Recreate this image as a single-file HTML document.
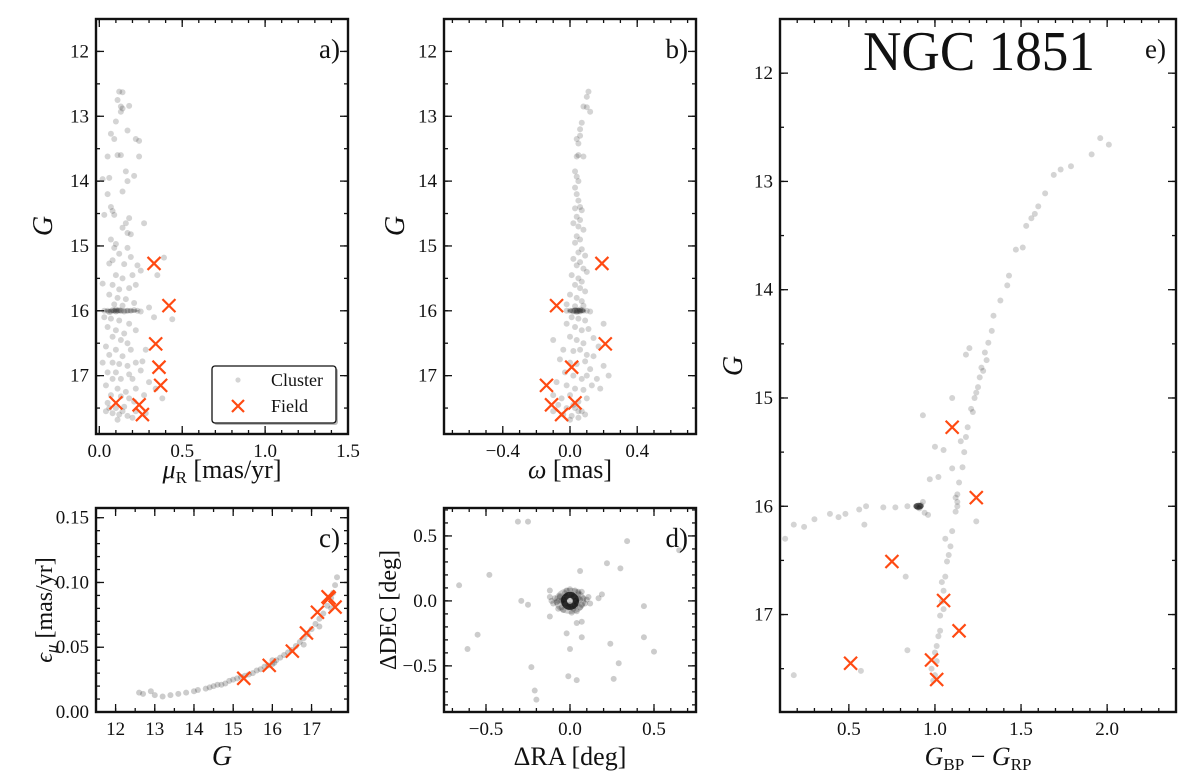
<!DOCTYPE html>
<html><head><meta charset="utf-8"><style>
html,body{margin:0;padding:0;background:#fff;}
svg{display:block;font-family:"Liberation Serif","DejaVu Serif",serif;}
</style></head><body>
<svg id="fig" width="1200" height="778" viewBox="0 0 1200 778" xmlns="http://www.w3.org/2000/svg"></svg>
<script>
// ---------- DATA ----------
const aMu = [0.12,0.14,0.11,0.13,0.18,0.14,0.13,0.10,0.07,0.09,0.17,0.22,0.24,0.24,0.05,0.11,0.13,0.06,0.16,0.21,0.17,0.02,0.14,0.05,0.07,0.08,0.03,0.09,0.18,0.16,0.27,0.14,0.17,0.19,0.07,0.10,0.09,0.17,0.12,0.08,0.19,0.39,0.06,0.15,0.23,0.35,0.02,0.10,0.14,0.20,0.25,0.08,0.12,0.18,0.22,0.06,0.11,0.16,0.09,0.14,0.21,0.30,0.03,0.05,0.07,0.08,0.09,0.10,0.11,0.12,0.13,0.15,0.17,0.19,0.21,0.23,0.25,0.06,0.10,0.03,0.07,0.12,0.18,0.33,0.44,0.05,0.10,0.15,0.22,0.08,0.13,0.17,0.04,0.10,0.19,0.28,0.06,0.14,0.02,0.08,0.12,0.17,0.22,0.26,0.05,0.10,0.18,0.25,0.08,0.13,0.20,0.30,0.34,0.04,0.11,0.16,0.22,0.07,0.13,0.18,0.05,0.10,0.15,0.21,0.27,0.38,0.04,0.08,0.12,0.17,0.22,0.28,0.11,0.20,0.14,0.06];
const aG  = [12.62,12.63,12.75,12.85,12.84,12.88,12.93,13.08,13.27,13.35,13.22,13.35,13.38,13.62,13.62,13.60,13.60,13.95,13.85,13.92,14.00,13.97,14.16,14.20,14.40,14.46,14.52,14.52,14.57,14.65,14.65,14.72,14.80,14.82,14.90,14.97,15.03,15.03,15.12,15.22,15.17,15.18,15.27,15.28,15.30,15.45,15.58,15.45,15.50,15.45,15.38,15.60,15.67,15.65,15.60,15.75,15.80,15.82,15.90,15.92,15.88,15.95,16.00,16.00,16.01,15.99,16.00,16.01,16.00,15.99,16.00,16.01,16.00,16.00,15.99,16.00,16.01,16.02,15.98,16.10,16.12,16.15,16.20,16.10,16.13,16.25,16.30,16.35,16.30,16.40,16.45,16.50,16.55,16.60,16.60,16.60,16.68,16.70,16.80,16.80,16.82,16.85,16.80,16.78,16.95,16.95,16.98,16.92,17.05,17.05,17.05,17.10,17.20,17.15,17.20,17.25,17.20,17.30,17.32,17.35,17.42,17.50,17.48,17.40,17.30,17.35,17.55,17.58,17.60,17.62,17.55,17.58,17.68,17.65,17.55,17.50];
const bW = [0.11,0.10,0.08,0.10,0.12,0.07,0.06,0.06,0.04,0.05,0.05,0.04,0.08,0.03,0.04,0.05,0.03,0.04,0.05,0.06,0.03,0.07,0.04,0.06,0.02,0.05,0.08,0.04,0.06,0.03,0.07,0.05,0.09,0.02,0.06,0.04,0.08,0.10,0.01,0.05,0.07,0.03,0.06,0.09,0.00,0.04,0.07,-0.02,0.03,0.08,-0.02,0.00,0.02,0.03,0.04,0.05,0.06,0.07,0.08,0.10,0.12,0.04,0.06,0.01,0.05,0.09,-0.02,0.03,0.07,0.11,0.20,-0.10,0.00,0.04,0.08,0.14,0.17,-0.04,0.02,0.06,0.10,0.14,-0.06,0.00,0.04,0.09,0.12,0.20,0.23,-0.03,0.02,0.07,0.10,0.16,-0.08,-0.02,0.03,0.08,0.13,0.18,-0.10,-0.05,0.00,0.05,0.10,-0.07,-0.02,0.03,0.07,-0.04,0.01,0.05,0.09,0.05,0.02,-0.10,0.00];
const bG = [12.62,12.70,12.85,12.86,12.93,13.10,13.20,13.30,13.35,13.42,13.60,13.62,13.62,13.85,13.93,14.00,14.10,14.20,14.30,14.40,14.42,14.45,14.55,14.60,14.65,14.70,14.75,14.85,14.90,14.95,15.05,15.10,15.15,15.20,15.25,15.30,15.35,15.40,15.45,15.50,15.55,15.60,15.65,15.70,15.75,15.80,15.85,15.90,15.93,15.92,16.00,16.00,16.01,15.99,16.00,16.00,16.01,15.99,16.00,16.00,16.01,16.02,15.98,16.10,16.12,16.15,16.20,16.25,16.30,16.28,16.20,16.45,16.40,16.45,16.50,16.42,16.55,16.60,16.62,16.60,16.68,16.70,16.75,16.80,16.82,16.78,16.90,16.85,17.00,16.95,17.00,17.05,17.00,17.05,17.10,17.15,17.20,17.22,17.15,17.20,17.30,17.35,17.30,17.40,17.35,17.45,17.50,17.50,17.55,17.60,17.62,17.65,17.60,17.55,17.45,17.55,17.68];
const cG = [12.6,12.7,12.9,13.0,13.2,13.4,13.6,13.8,14.0,14.1,14.3,14.4,14.5,14.6,14.7,14.8,14.9,15.0,15.1,15.2,15.3,15.4,15.5,15.6,15.7,15.8,15.9,16.0,16.0,16.05,16.1,16.2,16.3,16.4,16.5,16.6,16.7,16.8,16.9,17.0,17.1,17.2,17.3,17.4,17.5,17.55,17.6,17.65,17.5,17.2,16.8];
const cE = [0.015,0.014,0.016,0.013,0.012,0.013,0.014,0.015,0.016,0.017,0.018,0.019,0.020,0.021,0.021,0.022,0.024,0.025,0.026,0.027,0.028,0.029,0.030,0.032,0.033,0.035,0.036,0.037,0.040,0.038,0.040,0.042,0.044,0.046,0.048,0.051,0.054,0.057,0.060,0.064,0.068,0.072,0.076,0.082,0.088,0.092,0.098,0.104,0.080,0.066,0.052];
const dRA  = [-0.31,-0.25,0.34,0.65,-0.48,-0.66,0.22,0.30,0.06,-0.29,-0.25,-0.12,0.19,0.17,0.44,-0.12,0.04,0.07,-0.02,-0.55,0.07,0.44,-0.61,0.00,0.24,0.50,-0.23,0.29,-0.01,0.04,0.26,-0.21,-0.20,
  0.03,0.05,0.02,-0.02,-0.04,-0.03,0.00,0.04,-0.05,0.06,0.03,-0.06,0.07,-0.07,0.01,-0.01,0.08,-0.08,0.05,-0.05,0.09,-0.09,0.02,-0.03,0.06,-0.06,0.10,-0.10,0.03,-0.04,0.11,-0.11,0.00,0.04,-0.02,0.07,-0.07,0.12,-0.12,0.01,0.05];
const dDEC = [0.61,0.61,0.46,0.39,0.20,0.12,0.29,0.25,0.23,0.00,-0.03,0.08,0.05,0.02,-0.04,-0.12,-0.17,-0.16,-0.25,-0.26,-0.28,-0.28,-0.37,-0.37,-0.33,-0.39,-0.51,-0.48,-0.58,-0.61,-0.60,-0.69,-0.76,
  0.00,0.02,0.03,0.03,0.01,-0.02,-0.03,-0.02,0.00,0.01,-0.04,0.03,-0.03,0.00,0.05,-0.05,0.02,-0.01,0.05,-0.05,-0.02,0.02,-0.06,0.06,-0.05,0.04,0.01,-0.02,0.08,-0.07,0.03,0.00,0.09,-0.08,0.08,0.07,-0.06,-0.02,0.03,-0.09,0.07];
const eC = [2.01,1.96,1.91,1.79,1.73,1.69,1.64,1.60,1.58,1.56,1.53,1.51,1.47,1.43,1.42,1.38,1.34,1.33,1.31,1.29,1.27,1.26,1.24,1.22,1.19,1.18,1.17,1.16,1.14,1.13,1.13,1.12,1.10,1.09,1.07,1.06,1.05,1.04,1.03,1.03,1.01,1.01,1.00,0.99,1.18,1.20,1.23,
  0.91,0.90,0.92,0.89,0.91,0.84,0.77,0.70,0.60,0.56,0.48,0.44,0.39,0.30,0.24,0.18,0.13,0.59,0.96,0.94,0.97,1.02,0.93,1.00,1.05,0.93,1.10,0.83,0.84,0.57,0.18,1.24,1.12,1.13,1.08,1.05,1.02,1.00,0.98,1.04,1.06,1.10,1.15,1.21,1.25,1.28,1.30];
const eG = [12.66,12.60,12.75,12.86,12.89,12.94,13.11,13.23,13.30,13.34,13.41,13.61,13.63,13.87,13.96,14.10,14.24,14.38,14.49,14.58,14.72,14.81,14.95,15.13,15.27,15.36,15.50,15.64,15.78,15.89,15.96,16.05,16.23,16.37,16.51,16.65,16.78,16.88,17.01,17.15,17.29,17.43,17.56,17.61,14.60,14.54,15.00,
  16.00,16.01,15.99,16.00,16.02,16.00,16.01,16.01,16.00,16.03,16.07,16.10,16.07,16.12,16.19,16.17,16.30,16.17,16.08,16.06,15.75,15.73,15.96,15.45,15.48,15.16,15.00,16.65,17.33,17.52,17.56,16.14,15.92,16.00,16.45,16.95,17.20,17.35,17.50,16.70,16.30,15.65,15.40,15.10,14.90,14.75,14.65];
const fG   = [15.27,15.92,16.51,16.87,17.15,17.42,17.45,17.60];
const fMu  = [0.33,0.42,0.34,0.36,0.37,0.10,0.24,0.26];
const fW   = [0.19,-0.08,0.21,0.01,-0.14,0.03,-0.11,-0.05];
const fE   = [0.026,0.036,0.047,0.061,0.077,0.089,0.088,0.081];
const fC   = [1.10,1.24,0.75,1.05,1.14,0.98,0.51,1.01];

// ---------- DRAWING ----------
const NS="http://www.w3.org/2000/svg";
const svg=document.getElementById('fig');
function mk(tag,attrs,parent){const e=document.createElementNS(NS,tag);for(const k in attrs)e.setAttribute(k,attrs[k]);(parent||svg).appendChild(e);return e;}
function txt(parent,x,y,s,size,anchor,extra){const t=mk('text',Object.assign({x:x,y:y,'font-size':size,'text-anchor':anchor||'middle',fill:'#111'},extra||{}),parent);t.innerHTML=s;return t;}

function makePanel(name,L,R,T,B,xd,yd,xt,yt,xmin,ymin,xfmt,yfmt){
  const g=mk('g',{},svg);
  
  
  const sx=v=>L+(v-xd[0])/(xd[1]-xd[0])*(R-L);
  const sy=v=>T+(v-yd[0])/(yd[1]-yd[0])*(B-T);
  const ax=mk('g',{stroke:'#111','stroke-width':1.3},g);
  
  
  const xs=xt.concat(xmin), ys=yt.concat(ymin);
  xs.forEach((v,i)=>{const p=sx(v);if(p<L-0.5||p>R+0.5)return;const len=i<xt.length?8:4;
    mk('line',{x1:p,x2:p,y1:B,y2:B-len},ax);mk('line',{x1:p,x2:p,y1:T,y2:T+len},ax);});
  ys.forEach((v,i)=>{const p=sy(v);if(p<T-0.5||p>B+0.5)return;const len=i<yt.length?8:4;
    mk('line',{x1:L,x2:L+len,y1:p,y2:p},ax);mk('line',{x1:R,x2:R-len,y1:p,y2:p},ax);});
  xt.forEach(v=>{const t=txt(g,sx(v),B+23,xfmt(v),19);
    
    });
  yt.forEach(v=>{const t=txt(g,L-7,sy(v)+6,yfmt(v),19,'end');
    
    });
  const pts=mk('g',{},g);
  const fr=mk('rect',{x:L,y:T,width:R-L,height:B-T,fill:'none',stroke:'#111','stroke-width':2.4},g);
  
  
  return {g,sx,sy,pts};
}
function dots(P,xs,ys,name,op){
  const gg=mk('g',{fill:'#000','fill-opacity':op||0.17},P.pts);
  
  
  xs.forEach((v,i)=>{const c=mk('circle',{cx:P.sx(v),cy:P.sy(ys[i]),r:3},gg);
    
    });
}
function crosses(P,xs,ys,name){
  const gg=mk('g',{stroke:'#ff4a12','stroke-width':2.2},P.pts);
  
  
  xs.forEach((v,i)=>{const x=P.sx(v),y=P.sy(ys[i]),h=6.5;
    const c=mk('path',{d:`M${x-h},${y-h}L${x+h},${y+h}M${x-h},${y+h}L${x+h},${y-h}`},gg);
    
    });
}
const f1=v=>v<0?'\u2212'+(-v).toFixed(1):v.toFixed(1);
const f2=v=>v.toFixed(2);
const fi=v=>String(v);
const rng=(a,b,s)=>{const r=[];for(let v=a;v<=b+1e-9;v+=s)r.push(+v.toFixed(4));return r;};

const A=makePanel('panel-a',96,348,19,434,[-0.02,1.5],[11.5,17.9],[0,0.5,1,1.5],[12,13,14,15,16,17],rng(0,1.5,0.1),rng(11.5,17.5,0.5),f1,fi);
dots(A,aMu,aG,'cluster-points-a');crosses(A,fMu,fG,'field-points-a');
const Bp=makePanel('panel-b',444,696,19,434,[-0.75,0.75],[11.5,17.9],[-0.4,0,0.4],[12,13,14,15,16,17],rng(-0.7,0.7,0.1),rng(11.5,17.5,0.5),f1,fi);
dots(Bp,bW,bG,'cluster-points-b');crosses(Bp,fW,fG,'field-points-b');
const C=makePanel('panel-c',96,348,508,712,[11.5,17.93],[0.1575,0],[12,13,14,15,16,17],[0,0.05,0.1,0.15],rng(11.5,17.5,0.5),rng(0,0.15,0.01),fi,f2);
dots(C,cG,cE,'cluster-points-c',0.2);crosses(C,fG,fE,'field-points-c');
const D=makePanel('panel-d',444,696,508,712,[-0.75,0.75],[0.715,-0.855],[-0.5,0,0.5],[-0.5,0,0.5],rng(-0.7,0.7,0.1),rng(-0.8,0.7,0.1),f1,f1);
dots(D,dRA,dDEC,'cluster-points-d',0.2);
const halo=mk('ellipse',{cx:D.sx(0),cy:D.sy(0),rx:16,ry:13,fill:'#000','fill-opacity':0.2},D.pts);


const ring=mk('circle',{cx:D.sx(0),cy:D.sy(0),r:6,fill:'none',stroke:'#000','stroke-opacity':0.75,'stroke-width':6},D.pts);


const E=makePanel('panel-e',780,1176,19,712,[0.1,2.4],[11.5,17.9],[0.5,1,1.5,2],[12,13,14,15,16,17],rng(0.1,2.4,0.1),rng(11.5,17.5,0.5),f1,fi);
dots(E,eC,eG,'cluster-points-e',0.17);
const hb=mk('ellipse',{cx:E.sx(0.905),cy:E.sy(16.0),rx:5,ry:3.5,fill:'#000','fill-opacity':0.6},E.pts);


crosses(E,fC,fG,'field-points-e');

// HB clumps in a and b
const ca=mk('ellipse',{cx:A.sx(0.13),cy:A.sy(16.0),rx:18,ry:2.5,fill:'#000','fill-opacity':0.25},A.pts);


const cb=mk('ellipse',{cx:Bp.sx(0.04),cy:Bp.sy(16.0),rx:9,ry:3,fill:'#000','fill-opacity':0.35},Bp.pts);



function lab(x,y,s,size,name,rot,style){
  const t=txt(svg,x,y,s,size,'middle',Object.assign(rot?{transform:`rotate(-90 ${x} ${y})`}:{},style||{}));
  
  return t;}
lab(222,478,'<tspan font-style="italic">μ</tspan><tspan font-size="17" dy="5">R</tspan><tspan dy="-5"> [mas/yr]</tspan>',26,'x-axis-title-a');
lab(570,478,'<tspan font-style="italic">ω</tspan> [mas]',26,'x-axis-title-b');
lab(222,765,'<tspan font-style="italic">G</tspan>',28,'x-axis-title-c');
lab(570,765,'ΔRA [deg]',26,'x-axis-title-d');
lab(978,765,'<tspan font-style="italic">G</tspan><tspan font-size="17" dy="5">BP</tspan><tspan dy="-5"> − </tspan><tspan font-style="italic">G</tspan><tspan font-size="17" dy="5">RP</tspan>',26,'x-axis-title-e');
lab(52,226,'<tspan font-style="italic">G</tspan>',28,'y-axis-title-a',true);
lab(404,226,'<tspan font-style="italic">G</tspan>',28,'y-axis-title-b',true);
lab(742,366,'<tspan font-style="italic">G</tspan>',28,'y-axis-title-e',true);
lab(52,610,'<tspan font-style="italic">ϵ</tspan><tspan font-style="italic" font-size="17" dy="5">μ</tspan><tspan dy="-5"> [mas/yr]</tspan>',24,'y-axis-title-c',true);
lab(396,610,'ΔDEC [deg]',24,'y-axis-title-d',true);
const pl=[[340,58,'a)'],[688,58,'b)'],[340,547,'c)'],[688,547,'d)'],[1166,58,'e)']];
pl.forEach(p=>{const t=txt(svg,p[0],p[1],p[2],27,'end');
  
  });
const title=txt(svg,979,70,'NGC 1851',56,'middle',{textLength:232,lengthAdjust:'spacingAndGlyphs'});



const lg=mk('g',{},svg);


mk('rect',{x:214,y:368,width:124,height:57,rx:3,fill:'#bbb'},lg);
mk('rect',{x:212,y:366,width:124,height:57,rx:3,fill:'#fff',stroke:'#111','stroke-width':1.3},lg);
const lc=mk('circle',{cx:238,cy:380,r:2.6,fill:'#000','fill-opacity':0.17},lg);


const lx=mk('path',{d:'M232,400L244,412M232,412L244,400',stroke:'#ff4a12','stroke-width':2.2},lg);


const t1=txt(lg,271,386,'Cluster',18,'start');


const t2=txt(lg,271,412,'Field',18,'start');


</script>
</body></html>
